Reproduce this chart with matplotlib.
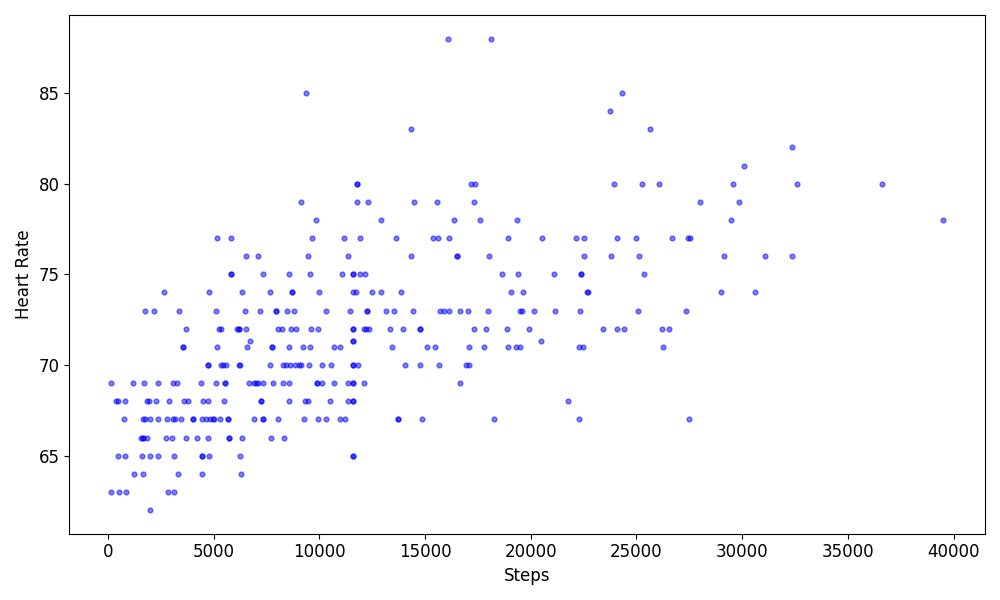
import matplotlib

matplotlib.use("Agg")
import matplotlib.pyplot as plt

# Steps / heart rate pairs, grouped by heart rate level
steps = [
    2000,
    140, 520, 860, 2850, 3140,
    1240, 1670, 3330, 4470, 6280,
    480, 810, 1620, 2000, 2380, 3140, 4470, 4470, 4760, 6230, 11600, 11600,
    1570, 1670, 1670, 1860, 2760, 3040, 3710, 4190, 4710, 5710, 5710, 6330, 7710, 8320,
    760, 1670, 1760, 2000, 2380, 2810, 3090, 3190, 3470, 4000, 4000, 4470, 4660, 4850,
    4950, 5040, 5280, 5660, 5660, 6900, 7320, 7320, 8040, 9270, 9940, 10320, 10990,
    11220, 13700, 13700, 14840, 18260, 22260, 27490,
    380, 480, 810, 1860, 1950, 2280, 2900, 3620, 3810, 4520, 4710, 5470, 7230, 7230,
    8560, 9320, 9460, 10510, 11370, 11600, 11600, 21780,
    140, 1190, 1710, 2380, 3090, 3280, 4380, 5090, 5520, 5520, 6660, 6900, 6990, 7090,
    7320, 7800, 8280, 8560, 9890, 9890, 10130, 10700, 11370, 11600, 11600, 12130, 16650,
    4710, 4710, 5330, 5420, 5570, 6180, 6230, 7660, 8280, 8420, 8610, 8850, 9040, 9130,
    9510, 10130, 10560, 11600, 11600, 11840, 14030, 14740, 15650, 16930, 17070,
    3570, 3570, 5140, 6560, 7750, 7750, 8560, 9230, 9560, 10700, 10990, 13460, 15080,
    15460, 17070, 17790, 18930, 19310, 19500, 22260, 22450, 26250,
    6710, 11600, 11600, 20500,
    3710, 5230, 5370, 6090, 6180, 6180, 6520, 8040, 8230, 8660, 8890, 9610, 9940, 11600,
    11600, 12130, 12220, 12370, 13360, 13940, 14740, 14740, 17310, 17880, 18880, 19930,
    23400, 24070, 24400, 26210, 26540,
    1760, 2190, 3380, 5090, 6470, 7180, 7940, 7940, 8470, 8800, 10320, 11460, 12270,
    12270, 13170, 13510, 14410, 15700, 15890, 16120, 16650, 17030, 17980, 19500, 19600,
    20170, 21160, 22350, 25060, 27350,
    2660, 4800, 6330, 7660, 8700, 8700, 9990, 11600, 11750, 12510, 12940, 13840, 19070,
    19640, 22640, 22730, 29010, 30630,
    5800, 5800, 7320, 8560, 9560, 11080, 11600, 11600, 11940, 12180, 18640, 19400, 21120,
    22400, 22400, 25350,
    6520, 7090, 9460, 11370, 14320, 16500, 16500, 18030, 22540, 23780, 25110, 29150,
    31060, 32340,
    5180, 5800, 9660, 11180, 11940, 13650, 15360, 15600, 16120, 18930, 20550, 22160,
    22540, 24070, 24970, 26680, 27440, 27540,
    9850, 12940, 16360, 17600, 19360, 29490, 39520,
    9130, 11800, 12320, 14460, 15550, 17310, 28010, 29870,
    11800, 11800, 17170, 17360, 23920, 25260, 26060, 29580, 32580, 36620,
    30100,
    32340,
    14320, 25640,
    23730,
    9370, 24300,
    16080, 18120,
]

heart_rate = (
    [62] * 1 + [63] * 5 + [64] * 5 + [65] * 12 + [66] * 14 + [67] * 34 + [68] * 22
    + [69] * 27 + [70] * 25 + [71] * 22 + [71.3] * 4 + [72] * 31 + [73] * 30
    + [74] * 18 + [75] * 16 + [76] * 14 + [77] * 18 + [78] * 7 + [79] * 8 + [80] * 10
    + [81] * 1 + [82] * 1 + [83] * 2 + [84] * 1 + [85] * 2 + [88] * 2
)

fig, ax = plt.subplots(figsize=(10, 6), dpi=100)
ax.scatter(steps, heart_rate, s=12, color="blue", alpha=0.5)
ax.set_xlabel("Steps", fontsize=12)
ax.set_ylabel("Heart Rate", fontsize=12)
ax.tick_params(labelsize=12)

plt.tight_layout()
fig.savefig("out.png", dpi=100)
plt.close(fig)
